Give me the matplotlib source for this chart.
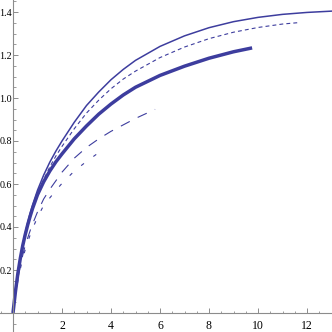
import matplotlib
matplotlib.use('Agg')
import matplotlib.pyplot as plt
from matplotlib.ticker import MultipleLocator

line_color = '#3d3d9e'
axis_color = '#8c8c8c'

# thin solid curve
x_thin = [0, 0.1, 0.2, 0.3, 0.4, 0.5, 0.6, 0.7, 0.8, 1.0, 1.25, 1.5, 1.75, 2, 2.5, 3, 3.5, 4, 4.5, 5, 6, 7, 8, 9, 10, 11, 12, 13]
y_thin = [0, 0.1, 0.185, 0.257, 0.319, 0.373, 0.421, 0.464, 0.503, 0.571, 0.641, 0.701, 0.753, 0.8, 0.887, 0.965, 1.028, 1.085, 1.133, 1.175, 1.24, 1.289, 1.327, 1.355, 1.375, 1.389, 1.398, 1.404]

# thick solid curve
x_thick = [0, 0.1, 0.2, 0.3, 0.4, 0.5, 0.6, 0.7, 0.8, 1.0, 1.25, 1.5, 1.75, 2, 2.5, 3, 3.5, 4, 4.5, 5, 6, 7, 8, 9, 9.76]
y_thick = [0, 0.1, 0.185, 0.255, 0.315, 0.365, 0.41, 0.45, 0.487, 0.55, 0.61, 0.66, 0.703, 0.74, 0.81, 0.87, 0.925, 0.972, 1.014, 1.05, 1.105, 1.148, 1.185, 1.215, 1.233]

# short dashed curve
x_dash = [0, 0.1, 0.2, 0.3, 0.4, 0.5, 0.6, 0.7, 0.8, 1.0, 1.25, 1.5, 1.75, 2, 2.5, 3, 3.5, 4, 4.5, 5, 6, 7, 8, 9, 10, 11, 11.7]
y_dash = [0, 0.095, 0.177, 0.247, 0.307, 0.359, 0.406, 0.448, 0.486, 0.552, 0.62, 0.679, 0.73, 0.775, 0.857, 0.93, 0.99, 1.043, 1.088, 1.125, 1.188, 1.237, 1.276, 1.306, 1.328, 1.344, 1.351]

# long dashed curve
x_long = [0, 0.1, 0.2, 0.3, 0.4, 0.5, 0.75, 1.0, 1.25, 1.5, 2.0, 2.5, 3.0, 3.5, 4.0, 4.5, 5.0, 5.8]
y_long = [0, 0.09, 0.16, 0.22, 0.27, 0.315, 0.4, 0.47, 0.53, 0.575, 0.655, 0.72, 0.77, 0.81, 0.845, 0.875, 0.905, 0.947]

# dot-dashed curve
x_dd = [0, 0.1, 0.2, 0.3, 0.4, 0.5, 0.75, 1.0, 1.25, 1.5, 1.75, 2.0, 2.5, 3.0, 3.5, 3.69]
y_dd = [0, 0.085, 0.15, 0.205, 0.255, 0.295, 0.38, 0.445, 0.5, 0.535, 0.57, 0.603, 0.66, 0.705, 0.746, 0.761]

x_ticks = [2, 4, 6, 8, 10, 12]
y_ticks = [0.2, 0.4, 0.6, 0.8, 1.0, 1.2, 1.4]
y_ticklabels = ['0.2', '0.4', '0.6', '0.8', '1.0', '1.2', '1.4']

plt.rcParams['font.family'] = ['Liberation Serif', 'DejaVu Serif']
fig = plt.figure(figsize=(3.32, 3.32), dpi=100)
ax = fig.add_axes([0, 0, 1, 1])

ax.plot(x_dd, y_dd, color=line_color, lw=0.8, dashes=(3.2, 10.5))
ax.plot(x_long, y_long, color=line_color, lw=0.8, dashes=(9, 8))
ax.plot(x_dash, y_dash, color=line_color, lw=0.8, dashes=(3.5, 2.8))
ax.plot(x_thin, y_thin, color=line_color, lw=1.1)
ax.plot(x_thick, y_thick, color=line_color, lw=2.5, solid_capstyle='butt')

ax.set_xlim(-13 / 24.5, 319 / 24.5)
ax.set_ylim(-19 / 215.0, 313 / 215.0)

for s in ['top', 'right']:
    ax.spines[s].set_visible(False)
ax.spines['left'].set_position(('data', 0))
ax.spines['bottom'].set_position(('data', 0))
ax.spines['left'].set_color(axis_color)
ax.spines['bottom'].set_color(axis_color)
ax.spines['left'].set_linewidth(0.8)
ax.spines['bottom'].set_linewidth(0.8)

ax.set_xticks(x_ticks)
ax.set_xticklabels([str(v) for v in x_ticks])
ax.set_yticks(y_ticks)
ax.set_yticklabels(y_ticklabels)
ax.xaxis.set_minor_locator(MultipleLocator(0.5))
ax.yaxis.set_minor_locator(MultipleLocator(0.05))
ax.tick_params(which='major', direction='in', length=3.3, width=0.7, color=axis_color)
ax.tick_params(which='minor', direction='in', length=1.8, width=0.6, color=axis_color)
ax.tick_params(axis='x', which='major', pad=5, labelsize=8.5)
ax.tick_params(axis='y', which='major', pad=0.8, labelsize=7.2)
ax.set_facecolor('none')

plt.savefig('out.png', dpi=100)
